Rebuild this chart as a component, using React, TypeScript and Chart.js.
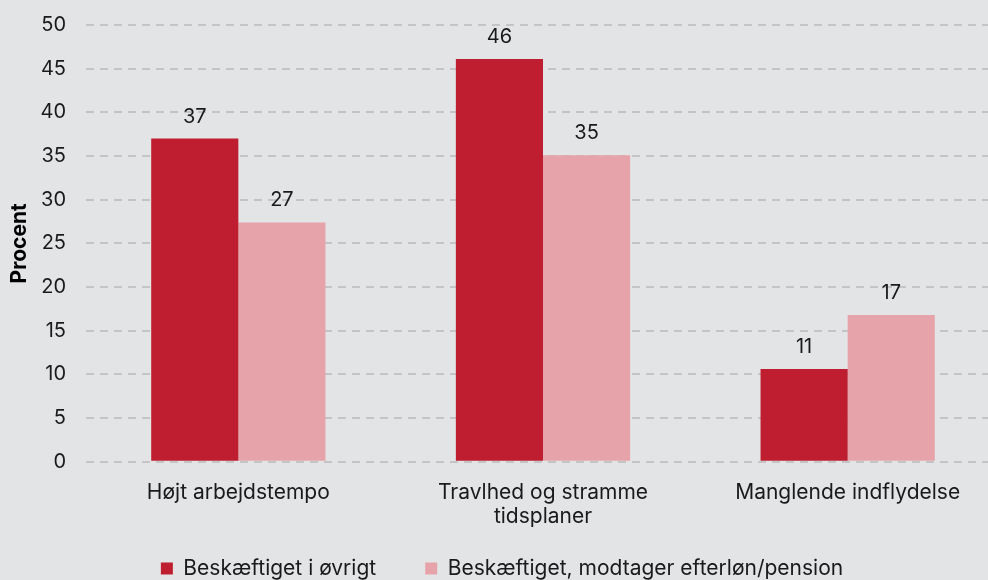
import React, { useEffect, useRef } from "react";
import { Chart, registerables } from "chart.js";

Chart.register(...registerables);

const categories: (string | string[])[] = [
  "Højt arbejdstempo",
  ["Travlhed og stramme", "tidsplaner"],
  "Manglende indflydelse",
];
const seriesNames = ["Beskæftiget i øvrigt", "Beskæftiget, modtager efterløn/pension"];
const ovrigt = [37.0, 46.1, 10.6];
const efterlon = [27.4, 35.1, 16.8];
const yTicks = [0, 5, 10, 15, 20, 25, 30, 35, 40, 45, 50];

const DARK = "#be1e2f";
const LIGHT = "#e6a4aa";
const BG = "#e3e4e6";
const TEXT = "#1a1a1a";
const LEGEND_SHRINK = 31;

const valueLabels = {
  id: "valueLabels",
  afterDatasetsDraw(chart: any) {
    const ctx = chart.ctx;
    ctx.save();
    ctx.font = "20px Inter";
    ctx.fillStyle = TEXT;
    ctx.textAlign = "center";
    ctx.textBaseline = "alphabetic";
    chart.data.datasets.forEach((ds: any, i: number) => {
      const meta = chart.getDatasetMeta(i);
      meta.data.forEach((bar: any, j: number) => {
        const v = ds.data[j];
        ctx.fillText(String(Math.round(v)), bar.x, bar.y - 16);
      });
    });
    ctx.restore();
  },
};

// Shrinks the vertical room of the legend while keeping its horizontal spacing
const compactLegend = {
  id: "compactLegend",
  beforeLayout(chart: any) {
    const lg = chart.legend;
    if (!lg || lg._compact) return;
    lg._compact = true;
    const origFit = lg.fit.bind(lg);
    lg.fit = function () {
      origFit();
      this.height -= LEGEND_SHRINK;
    };
    lg.draw = function () {
      if (!this.options.display) return;
      const ctx = this.ctx;
      ctx.save();
      ctx.translate(0, -LEGEND_SHRINK);
      this._draw();
      ctx.restore();
    };
  },
};

export default function App() {
  const ref = useRef<HTMLCanvasElement>(null);
  useEffect(() => {
    const chart = new Chart(ref.current!, {
      type: "bar",
      data: {
        labels: categories,
        datasets: [
          { label: seriesNames[0], data: ovrigt, backgroundColor: DARK, barPercentage: 1, categoryPercentage: 0.572 },
          { label: seriesNames[1], data: efterlon, backgroundColor: LIGHT, barPercentage: 1, categoryPercentage: 0.572 },
        ],
      },
      options: {
        animation: false,
        responsive: true,
        maintainAspectRatio: false,
        layout: { padding: { top: 25, left: 4, right: 0, bottom: 0 } },
        plugins: {
          legend: {
            position: "bottom",
            labels: {
              font: { family: "Inter", size: 21 },
              color: TEXT,
              boxWidth: 12,
              boxHeight: 12,
              padding: 49,
              useBorderRadius: false,
            },
          },
          tooltip: { enabled: false },
        },
        scales: {
          x: {
            afterFit: (axis: any) => {
              axis.paddingLeft = 0;
              axis.paddingRight = 0;
            },
            grid: { display: false },
            border: { display: false },
            ticks: {
              font: { family: "Inter", size: 21, lineHeight: 1.15 },
              color: TEXT,
              padding: 11,
              maxRotation: 0,
            },
          },
          y: {
            min: 0,
            max: 50,
            afterBuildTicks: (axis: any) => {
              axis.ticks = yTicks.map((v) => ({ value: v }));
            },
            afterFit: (axis: any) => {
              axis.width = 82;
              axis.paddingTop = 0;
              axis.paddingBottom = 0;
            },
            grid: { color: "#c4c4c6", lineWidth: 2, drawTicks: false },
            border: { display: false, dash: [8, 6] },
            ticks: { font: { family: "Inter", size: 20 }, color: TEXT, padding: 20 },
            title: {
              display: true,
              text: "Procent",
              font: { family: "Inter", size: 21, weight: "bold" },
              color: "#000",
              padding: { top: 3, bottom: 10 },
            },
          },
        },
      },
      plugins: [valueLabels, compactLegend],
    });
    return () => chart.destroy();
  }, []);
  return (
    <div style={{ position: "fixed", left: 0, top: 0, width: 988, height: 580, overflow: "hidden", background: BG }}>
      <div style={{ position: "absolute", left: 0, top: 0, width: 1000, height: 589 }}>
        <canvas ref={ref} />
      </div>
    </div>
  );
}
